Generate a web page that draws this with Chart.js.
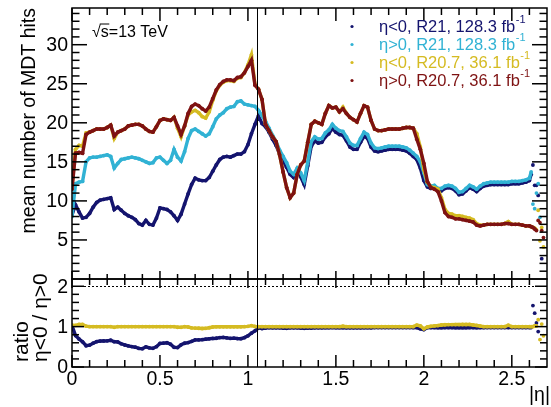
<!DOCTYPE html>
<html lang="en">
<head>
<meta charset="UTF-8">
<title>MDT hits vs |η|</title>
<script src="https://cdn.jsdelivr.net/npm/chart.js"></script>
<style>
  html, body { margin: 0; padding: 0; background: #fff; }
  #wrap { position: relative; width: 551px; height: 407px; }
</style>
</head>
<body>
<div id="wrap"><canvas id="mdtChart" width="551" height="407"></canvas></div>
<script>
// |eta| bin positions
const eta = [
  0.00, 0.02, 0.04, 0.06, 0.08, 0.10, 0.12, 0.14, 0.16, 0.18,
  0.20, 0.22, 0.24, 0.26, 0.28, 0.30, 0.32, 0.34, 0.36, 0.38,
  0.40, 0.42, 0.44, 0.46, 0.48, 0.50, 0.52, 0.54, 0.56, 0.58,
  0.60, 0.62, 0.64, 0.66, 0.68, 0.70, 0.72, 0.74, 0.76, 0.78,
  0.80, 0.82, 0.84, 0.86, 0.88, 0.90, 0.92, 0.94, 0.96, 0.98,
  1.00, 1.02, 1.04, 1.06, 1.08, 1.10, 1.12, 1.14, 1.16, 1.18,
  1.20, 1.22, 1.24, 1.26, 1.28, 1.30, 1.32, 1.34, 1.36, 1.38,
  1.40, 1.42, 1.44, 1.46, 1.48, 1.50, 1.52, 1.54, 1.56, 1.58,
  1.60, 1.62, 1.64, 1.66, 1.68, 1.70, 1.72, 1.74, 1.76, 1.78,
  1.80, 1.82, 1.84, 1.86, 1.88, 1.90, 1.92, 1.94, 1.96, 1.98,
  2.00, 2.02, 2.04, 2.06, 2.08, 2.10, 2.12, 2.14, 2.16, 2.18,
  2.20, 2.22, 2.24, 2.26, 2.28, 2.30, 2.32, 2.34, 2.36, 2.38,
  2.40, 2.42, 2.44, 2.46, 2.48, 2.50, 2.52, 2.54, 2.56, 2.58,
  2.60, 2.61, 2.62, 2.63, 2.64, 2.65, 2.66, 2.67, 2.68
];

// mean number of MDT hits, eta<0, R21, 128.3 fb-1
const negR21 = [
  8.2, 9.5, 8.6, 7.8, 7.9, 8.4, 9.2, 9.8, 10.1, 10.2,
  10.3, 10.4, 8.9, 9.2, 8.8, 8.4, 8.1, 7.9, 7.6, 7.1,
  6.9, 7.5, 7.0, 6.9, 7.8, 9.1, 9.0, 8.9, 8.6, 8.1,
  7.5, 8.3, 9.6, 10.9, 12.1, 12.9, 12.7, 12.6, 12.6, 13.0,
  13.8, 14.6, 15.3, 15.6, 15.7, 15.6, 15.8, 16.0, 16.0, 16.3,
  17.2, 18.6, 19.8, 20.9, 19.9, 19.5, 18.8, 17.9, 17.1, 16.0,
  15.1, 14.3, 13.4, 13.0, 13.8, 13.1, 12.1, 14.5, 17.0, 17.7,
  17.4, 17.5, 18.2, 18.6, 19.3, 18.8, 18.5, 18.4, 17.7, 16.9,
  16.6, 16.6, 17.5, 18.3, 18.0, 16.9, 16.4, 16.3, 16.4, 16.5,
  16.6, 16.6, 16.6, 16.6, 16.5, 16.4, 16.1, 15.7, 15.3, 14.2,
  12.6, 11.8, 11.6, 11.7, 11.3, 11.3, 11.6, 11.7, 11.6, 11.3,
  10.8, 10.9, 11.3, 11.7, 11.5, 11.2, 11.6, 11.9, 12.0, 12.1,
  12.1, 12.1, 12.1, 12.1, 12.1, 12.2, 12.2, 12.2, 12.3, 12.4,
  12.6, 13.4, 14.6, 12.0, 12.0, 10.7, null, 2.6, null
];

// eta>0, R21, 128.3 fb-1
const posR21 = [
  8.0, 12.2, 12.4, 12.5, 15.0, 15.5, 15.6, 15.6, 15.7, 15.8,
  15.9, 15.7, 14.2, 14.8, 15.3, 15.4, 15.5, 15.6, 15.5, 15.4,
  15.2, 15.0, 14.8, 14.9, 15.5, 15.6, 15.2, 14.8, 15.2, 16.6,
  15.6, 15.1, 16.3, 18.0, 19.0, 19.2, 18.9, 18.6, 18.3, 18.6,
  19.5, 20.5, 21.0, 21.3, 21.8, 22.0, 22.1, 22.7, 22.8, 22.4,
  22.3, 22.2, 22.1, 21.6, 20.9, 20.2, 19.3, 18.4, 17.6, 16.5,
  15.7, 14.9, 13.8, 13.4, 14.2, 13.6, 12.6, 15.0, 17.6, 18.2,
  17.9, 18.0, 18.7, 19.1, 19.8, 19.3, 19.0, 18.9, 18.2, 17.4,
  17.1, 17.1, 18.0, 18.8, 18.5, 17.4, 16.8, 16.7, 16.8, 16.9,
  17.0, 17.0, 17.0, 17.0, 16.9, 16.8, 16.5, 16.1, 15.7, 15.0,
  13.6, 12.1, 11.9, 12.0, 11.6, 11.6, 11.9, 12.0, 11.9, 11.6,
  11.1, 11.2, 11.6, 12.0, 11.8, 11.5, 11.9, 12.2, 12.3, 12.4,
  12.4, 12.4, 12.4, 12.4, 12.4, 12.5, 12.5, 12.5, 12.6, 12.7,
  12.9, 13.7, 9.6, 9.0, 11.0, 12.2, 7.9, null, null
];

// eta<0, R20.7, 36.1 fb-1
const negR207 = [
  11.9, 16.6, 17.1, 17.0, 18.7, 18.8, 19.0, 19.2, 19.2, 19.2,
  19.4, 19.7, 18.0, 18.8, 19.0, 19.2, 19.6, 19.7, 19.8, 19.8,
  19.6, 19.2, 18.9, 18.8, 19.5, 20.3, 20.5, 20.4, 20.3, 20.7,
  19.3, 18.2, 19.6, 21.0, 21.4, 21.6, 21.3, 20.8, 20.6, 21.4,
  22.9, 24.1, 24.8, 25.2, 25.4, 25.4, 25.3, 25.7, 25.8, 26.4,
  27.4, 28.7, 24.9, 24.3, 23.0, 19.8, 19.0, 18.2, 17.6, 15.9,
  13.7, 11.7, 10.4, 11.0, 13.4, 14.6, 15.1, 17.5, 19.8, 20.2,
  20.0, 19.8, 21.2, 22.2, 21.9, 22.0, 21.4, 22.0, 21.2, 20.7,
  20.4, 20.1, 21.2, 22.2, 22.0, 20.3, 19.2, 19.0, 19.0, 19.1,
  19.2, 19.2, 19.2, 19.2, 19.3, 19.4, 19.4, 19.3, 18.6, 16.9,
  14.0, 12.4, 11.8, 11.7, 11.5, 10.4, 8.9, 8.4, 8.3, 8.1,
  8.1, 8.0, 7.9, 7.8, 7.6, 7.1, 6.9, 6.9, 7.0, 7.0,
  7.0, 7.0, 7.0, 7.1, 7.35, 7.0, 7.0, 7.0, 6.9, 6.8,
  6.8, 6.7, 6.6, 6.5, 6.3, 8.8, 4.9, 6.6, 4.1
];

// eta>0, R20.7, 36.1 fb-1
const posR207 = [
  11.5, 16.1, 16.2, 16.1, 18.5, 18.8, 19.0, 19.2, 19.2, 19.2,
  19.4, 19.7, 18.3, 18.8, 19.0, 19.2, 19.6, 19.7, 19.8, 19.8,
  19.6, 19.2, 18.9, 18.8, 19.5, 20.3, 20.5, 20.4, 20.3, 20.7,
  19.6, 18.5, 19.6, 21.2, 22.1, 22.4, 22.2, 21.8, 21.5, 22.0,
  23.1, 24.2, 24.9, 25.3, 25.5, 25.5, 25.4, 25.8, 25.9, 26.4,
  27.2, 28.0, 24.8, 24.3, 23.0, 19.8, 19.0, 18.2, 17.6, 15.9,
  13.7, 11.7, 10.4, 11.0, 13.4, 14.6, 15.1, 17.5, 19.8, 20.2,
  20.0, 19.8, 21.2, 22.2, 21.9, 22.0, 21.4, 21.8, 21.2, 20.7,
  20.4, 20.1, 21.2, 22.2, 22.0, 20.3, 19.2, 19.0, 19.0, 19.1,
  19.2, 19.2, 19.2, 19.2, 19.3, 19.4, 19.4, 19.3, 17.9, 16.6,
  14.8, 12.5, 11.7, 11.5, 11.2, 10.0, 8.5, 8.0, 7.9, 7.7,
  7.7, 7.6, 7.5, 7.4, 7.3, 6.9, 6.8, 6.9, 7.0, 7.0,
  7.0, 7.0, 7.0, 7.1, 7.1, 7.0, 7.0, 7.0, 6.9, 6.8,
  6.8, 6.7, 6.6, 6.4, 6.2, 7.5, 7.2, 6.2, 5.3
];

const hitsTicks = [5, 10, 15, 20, 25, 30];
const ratioTicks = [0, 1, 2];
const etaTicks = [0, 0.5, 1, 1.5, 2, 2.5];
const etaTickLabels = ['0', '0.5', '1', '1.5', '2', '2.5'];
const legendText = ['η<0, R21, 128.3 fb', 'η>0, R21, 128.3 fb', 'η<0, R20.7, 36.1 fb', 'η>0, R20.7, 36.1 fb'];

const NAVY = '#14146e', CYAN = '#31b2d4', GOLD = '#d5bb22', MAROON = '#7e1212';
const seriesColors = [NAVY, CYAN, GOLD, MAROON];

const ETA_CRACK = 1.05;
const FONT = '"Liberation Sans", Arial, Helvetica, sans-serif';

// eta<0 / eta>0 for each release
const ratioOf = (a, b) => a.map((v, i) => (v == null || b[i] == null) ? null : v / b[i]);
const ratioR21 = ratioOf(negR21, posR21);
const ratioR207 = ratioOf(negR207, posR207);

function series(vals, color, order, axis, lineEnd) {
  return {
    data: eta.map((x, i) => ({ x: x, y: vals[i] })),
    yAxisID: axis,
    borderColor: color,
    backgroundColor: color,
    pointBackgroundColor: color,
    borderWidth: 3.4,
    pointRadius: 1.9,
    pointBorderWidth: 0,
    showLine: true,
    spanGaps: false,
    order: order,
    segment: {
      // last bins are loose points, no connecting line
      borderColor: c => c.p1.parsed.x > lineEnd ? 'transparent' : undefined
    }
  };
}

function line(ctx, x1, y1, x2, y2) {
  ctx.beginPath();
  ctx.moveTo(x1, y1);
  ctx.lineTo(x2, y2);
  ctx.stroke();
}

// ROOT style frame: inward ticks on all four sides of each pad
const rootFrame = {
  id: 'rootFrame',
  afterDraw(chart) {
    const ctx = chart.ctx;
    const xs = chart.scales.x, yt = chart.scales.y, yr = chart.scales.yr;
    const L = chart.chartArea.left, R = chart.chartArea.right;

    const xMinor = [];
    for (let k = 1; k <= 26; k++) if (k % 5) xMinor.push(k / 10);

    ctx.save();
    ctx.strokeStyle = '#000';
    ctx.lineWidth = 1.5;

    function xTicks(y, dir, maj, min) {
      xMinor.forEach(v => { const p = xs.getPixelForValue(v); line(ctx, p, y, p, y + dir * min); });
      etaTicks.forEach(v => { const p = xs.getPixelForValue(v); line(ctx, p, y, p, y + dir * maj); });
    }
    function yTicks(scale, majors, minors, maj, min) {
      minors.forEach(v => {
        const p = scale.getPixelForValue(v);
        line(ctx, L, p, L + min, p); line(ctx, R, p, R - min, p);
      });
      majors.forEach(v => {
        const p = scale.getPixelForValue(v);
        line(ctx, L, p, L + maj, p); line(ctx, R, p, R - maj, p);
      });
    }

    // upper pad
    ctx.strokeRect(L, yt.top, R - L, yt.bottom - yt.top);
    xTicks(yt.top, 1, 13, 7);
    xTicks(yt.bottom, -1, 8, 5);
    const hitMinor = [];
    for (let v = 1; v < 35; v++) if (v % 5) hitMinor.push(v);
    yTicks(yt, hitsTicks, hitMinor, 15, 7.5);

    // ratio pad
    ctx.strokeRect(L, yr.top, R - L, yr.bottom - yr.top);
    xTicks(yr.top, 1, 9, 6);
    xTicks(yr.bottom, -1, 12, 7);
    const ratioMinor = [0.2, 0.4, 0.6, 0.8, 1.2, 1.4, 1.6, 1.8];
    yTicks(yr, ratioTicks, ratioMinor, 12, 7);

    // dotted reference at ratio 2
    ctx.lineWidth = 1;
    ctx.setLineDash([2, 2]);
    const y2 = Math.round(yr.getPixelForValue(2)) + 0.5;
    line(ctx, L + 12, y2, R - 12, y2);
    ctx.setLineDash([]);

    // barrel / endcap transition
    const xc = Math.round(xs.getPixelForValue(ETA_CRACK)) + 0.5;
    line(ctx, xc, yt.top, xc, yr.bottom);

    // tick labels
    ctx.fillStyle = '#000';
    ctx.font = '19.5px ' + FONT;
    ctx.textAlign = 'right';
    ctx.textBaseline = 'middle';
    hitsTicks.forEach(v => ctx.fillText(String(v), 68, yt.getPixelForValue(v) + 1));
    ratioTicks.forEach(v => ctx.fillText(String(v), 68, yr.getPixelForValue(v) + 1));
    ctx.textAlign = 'center';
    ctx.textBaseline = 'alphabetic';
    etaTicks.forEach((v, i) => ctx.fillText(etaTickLabels[i], xs.getPixelForValue(v), 385));

    // axis titles
    ctx.textAlign = 'right';
    ctx.fillText('|η|', 550, 401);

    ctx.save();
    ctx.translate(35, 8);
    ctx.rotate(-Math.PI / 2);
    ctx.textAlign = 'right';
    ctx.fillText('mean number of MDT hits', 0, 0);
    ctx.restore();

    ctx.font = '21px ' + FONT;
    ctx.textAlign = 'left';
    ctx.save();
    ctx.translate(28, 362);
    ctx.rotate(-Math.PI / 2);
    ctx.fillText('ratio', 0, 0);
    ctx.restore();
    ctx.save();
    ctx.translate(47, 362);
    ctx.rotate(-Math.PI / 2);
    ctx.fillText('η<0 / η>0', 0, 0);
    ctx.restore();

    // centre-of-mass energy
    ctx.font = '16px ' + FONT;
    ctx.textAlign = 'left';
    const rx = 92, base = 36.5;
    ctx.fillText('√', rx, base);
    const wRoot = ctx.measureText('√').width;
    const wS = ctx.measureText('s').width;
    ctx.fillText('s=13 TeV', rx + wRoot, base);
    ctx.lineWidth = 1;
    line(ctx, rx + wRoot - 1, base - 12.5, rx + wRoot + wS + 0.5, base - 12.5);

    // legend
    legendText.forEach((t, i) => {
      const yb = 32 + i * 18;
      ctx.fillStyle = seriesColors[i];
      ctx.beginPath();
      ctx.arc(352, yb - 5.5, 1.6, 0, Math.PI * 2);
      ctx.fill();
      ctx.font = '16.5px ' + FONT;
      ctx.fillText(t, 379, yb);
      const w = ctx.measureText(t).width;
      ctx.font = '11px ' + FONT;
      ctx.fillText('-1', 379 + w + 0.5, yb - 9);
    });
    ctx.restore();
  }
};

new Chart(document.getElementById('mdtChart').getContext('2d'), {
  type: 'scatter',
  data: {
    datasets: [
      series(negR21, NAVY, 3, 'y', 2.615),
      series(posR21, CYAN, 2, 'y', 2.615),
      series(negR207, GOLD, 1, 'y', 2.645),
      series(posR207, MAROON, 0, 'y', 2.645),
      series(ratioR21, NAVY, 5, 'yr', 2.615),
      series(ratioR207, GOLD, 4, 'yr', 2.645)
    ]
  },
  options: {
    responsive: false,
    animation: false,
    layout: { padding: { left: 72, right: 0, top: 8, bottom: 40 } },
    plugins: { legend: { display: false }, tooltip: { enabled: false } },
    scales: {
      x: { type: 'linear', min: 0, max: 2.7, display: false },
      // left boxes in a stack are laid out bottom-up, so the ratio pad comes first
      yr: { type: 'linear', min: 0, max: 2.18, display: false, position: 'left', stack: 'pads', stackWeight: 88 },
      y: { type: 'linear', min: 0, max: 34.7, display: false, position: 'left', stack: 'pads', stackWeight: 271 }
    }
  },
  plugins: [rootFrame]
});
</script>
</body>
</html>
